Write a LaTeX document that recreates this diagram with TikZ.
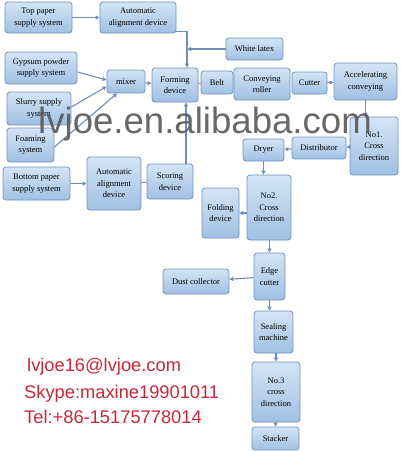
\documentclass[tikz,border=0pt]{standalone}
\usepackage{fontspec}
\setmainfont{Liberation Serif}
\newfontfamily\contactfont{Liberation Sans}
\usetikzlibrary{arrows.meta}

\definecolor{boxline}{RGB}{111,147,188}
\definecolor{boxtop}{RGB}{212,228,245}
\definecolor{boxbot}{RGB}{160,192,227}
\definecolor{linkcol}{RGB}{112,143,180}
\definecolor{contactred}{RGB}{200,40,60}
\definecolor{markgray}{RGB}{88,88,88}

\begin{document}
\begin{tikzpicture}[x=1pt,y=-1pt,
  box/.style={draw=boxline,line width=0.8pt,top color=boxtop,bottom color=boxbot,
    rounded corners=3pt,align=center,inner sep=1pt,
    font=\fontsize{8.5}{11.5}\selectfont},
  arr/.style={draw=linkcol,line width=1.1pt,-{Triangle[length=4pt,width=4pt]}},
  link/.style={draw=linkcol,line width=1.1pt},
  contact/.style={anchor=base west,text=contactred,inner sep=0pt,
    font=\contactfont\fontsize{18.3}{20}\selectfont}]
\useasboundingbox (0,0) rectangle (400,451);

\node[box,minimum width=67pt,minimum height=31pt] (toppaper) at (38.5,17.5) {Top paper\\supply system};
\node[box,minimum width=76pt,minimum height=31pt] (topalign) at (138,17.5) {Automatic\\alignment device};
\node[box,minimum width=72pt,minimum height=32pt] (gypsum) at (41,68) {Gypsum powder\\supply system};
\node[box,minimum width=38pt,minimum height=23pt] (mixer) at (126,81.5) {mixer};
\node[box,minimum width=46pt,minimum height=34pt] (forming) at (175,85) {Forming\\device};
\node[box,minimum width=32pt,minimum height=23pt] (belt) at (217,82.5) {Belt};
\node[box,minimum width=56pt,minimum height=32pt] (roller) at (262,84) {Conveying\\roller};
\node[box,minimum width=35pt,minimum height=22pt] (cutter) at (309.5,83) {Cutter};
\node[box,minimum width=63pt,minimum height=37pt] (accel) at (365.5,81.5) {Accelerating\\conveying};
\node[box,minimum width=57pt,minimum height=22pt] (latex) at (254.5,49) {White latex};
\node[box,minimum width=64pt,minimum height=33pt] (slurry) at (39,108.5) {Slurry supply\\system};
\node[box,minimum width=47pt,minimum height=34pt] (foaming) at (30.5,145) {Foaming\\system};
\node[box,minimum width=67pt,minimum height=33pt] (botpaper) at (36.5,183.5) {Bottom paper\\supply system};
\node[box,minimum width=54pt,minimum height=53pt] (botalign) at (114,183.5) {Automatic\\alignment\\device};
\node[box,minimum width=46pt,minimum height=35pt] (scoring) at (170,181.5) {Scoring\\device};
\node[box,minimum width=48pt,minimum height=58pt] (cross1) at (374,146) {No1.\\Cross\\direction};
\node[box,minimum width=54pt,minimum height=22pt] (distrib) at (319,148) {Distributor};
\node[box,minimum width=41pt,minimum height=22pt] (dryer) at (263.5,150) {Dryer};
\node[box,minimum width=44pt,minimum height=65pt] (cross2) at (269,207.5) {No2.\\Cross\\direction};
\node[box,minimum width=37pt,minimum height=50pt] (folding) at (220.5,213) {Folding\\device};
\node[box,minimum width=31pt,minimum height=47pt] (edge) at (269.5,276.5) {Edge\\cutter};
\node[box,minimum width=66pt,minimum height=25pt] (dust) at (196,281.5) {Dust collector};
\node[box,minimum width=39pt,minimum height=42pt] (sealing) at (273.5,332) {Sealing\\machine};
\node[box,minimum width=48pt,minimum height=60pt] (cross3) at (276,392) {No.3\\cross\\direction};
\node[box,minimum width=47pt,minimum height=23pt] (stacker) at (275.5,438.5) {Stacker};

% top paper line
\coordinate (join) at (187,31);
\draw[arr] (toppaper) -- (topalign);
\draw[arr] ([yshift=2pt]topalign.south east) -| (join |- forming.north);
\draw[arr] (latex.west) -- (latex.west -| join);

% into the mixer
\draw[arr] ([yshift=-4pt]gypsum.east) -- ([yshift=1.5pt]mixer.west);
\draw[arr] ([yshift=1.5pt]slurry.east) -- ([yshift=-5pt]mixer.west);
\draw[arr] ([yshift=-2pt]foaming.east) -- ([xshift=-9pt]mixer.south);
\draw[arr] (mixer) -- (forming);

% main line
\draw[link] (forming) -- (belt);
\draw[arr] (cutter) -- (accel);
\draw[arr] (accel.south) -- (accel.south |- cross1.north);
\draw[arr] (cross1) -- (distrib);
\draw[arr] (distrib) -- (dryer);
\draw[arr] (dryer.south) -- (dryer.south |- cross2.north);
\draw[arr] (cross2.west |- folding.east) -- (folding.east);
\draw[arr] (edge.north |- cross2.south) -- (edge.north);
\draw[arr] (edge) -- (dust);
\draw[arr] (edge.south) -- (edge.south |- sealing.north);
\draw[arr] (sealing.south -| cross3.north) -- (cross3.north);
\draw[arr] (cross3) -- (stacker);

% bottom paper line
\draw[arr] (botpaper) -- (botalign);
\draw[link] (botalign) -- (scoring);
\draw[arr] ([xshift=16pt]scoring.north) -- ([xshift=16pt]scoring.north |- forming.south);

\node[contact] (mail) at (27,371) {lvjoe16@lvjoe.com};
\node[contact] (skype) at (24,398) {Skype:maxine19901011};
\node[contact] (tel) at (24,423) {Tel:+86-15175778014};

\node[anchor=base west,inner sep=0pt,text=markgray,opacity=0.9,
  font=\contactfont\fontsize{36.6}{40}\selectfont] (mark) at (38,133) {lvjoe.en.alibaba.com};
\end{tikzpicture}
\end{document}
